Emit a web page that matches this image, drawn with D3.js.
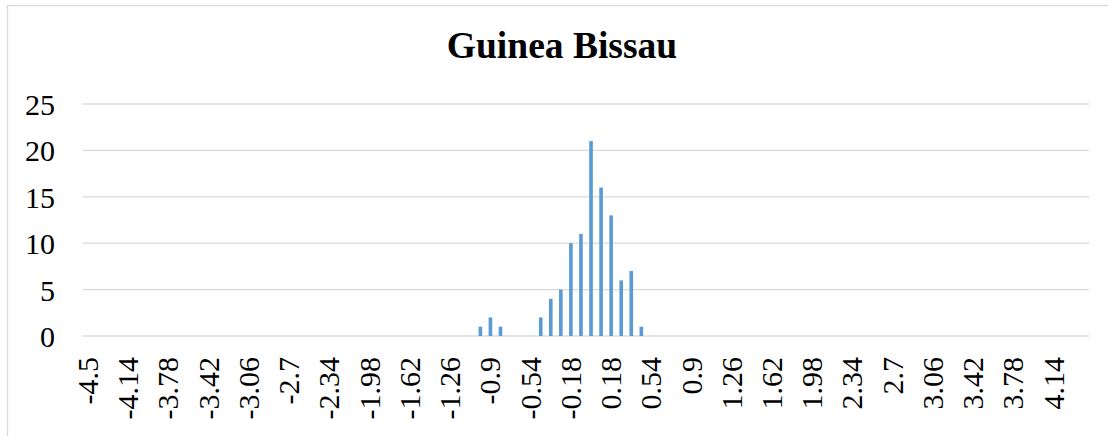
<!DOCTYPE html>
<html>
<head>
<meta charset="utf-8">
<script src="https://cdn.jsdelivr.net/npm/d3@7"></script>
<style>
  body { margin: 0; background: #fff; }
</style>
</head>
<body>
<div id="chart"></div>
<script>
const serif = '"Liberation Serif", "Times New Roman", serif';

// categorías del histograma: -4.5 a 4.41 en pasos de 0.09
const categories = d3.range(100).map(i => +(-4.5 + i * 0.09).toFixed(2));

// frecuencias (solo unas pocas son distintas de cero)
const counts = [
  0, 0, 0, 0, 0, 0, 0, 0, 0, 0,
  0, 0, 0, 0, 0, 0, 0, 0, 0, 0,
  0, 0, 0, 0, 0, 0, 0, 0, 0, 0,
  0, 0, 0, 0, 0, 0, 0, 0, 0, 1,
  2, 1, 0, 0, 0, 2, 4, 5, 10, 11,
  21, 16, 13, 6, 7, 1, 0, 0, 0, 0,
  0, 0, 0, 0, 0, 0, 0, 0, 0, 0,
  0, 0, 0, 0, 0, 0, 0, 0, 0, 0,
  0, 0, 0, 0, 0, 0, 0, 0, 0, 0,
  0, 0, 0, 0, 0, 0, 0, 0, 0, 0
];

const tickLabels = ['-4.5', '-4.14', '-3.78', '-3.42', '-3.06', '-2.7', '-2.34', '-1.98', '-1.62',
  '-1.26', '-0.9', '-0.54', '-0.18', '0.18', '0.54', '0.9', '1.26', '1.62', '1.98', '2.34',
  '2.7', '3.06', '3.42', '3.78', '4.14'];

const yTicks = [0, 5, 10, 15, 20, 25];

const width = 1108, height = 436;
const margin = { left: 83, right: 19, top: 104, bottom: 100 };
const plotW = width - margin.left - margin.right;
const plotH = height - margin.top - margin.bottom;

const svg = d3.select('#chart').append('svg')
  .attr('width', width)
  .attr('height', height)
  .attr('font-family', serif);

// marco del gráfico
svg.append('rect')
  .attr('x', 7.5).attr('y', 5.5)
  .attr('width', 1200).attr('height', 500)
  .attr('fill', 'none')
  .attr('stroke', '#d9d9d9')
  .attr('stroke-width', 1.3);

svg.append('text')
  .attr('x', 562).attr('y', 58)
  .attr('text-anchor', 'middle')
  .attr('font-family', serif)
  .attr('font-size', 37.5)
  .attr('font-weight', 'bold')
  .text('Guinea Bissau');

const data = categories.map((c, i) => ({ cat: c, n: counts[i] }));

const x = d3.scaleBand()
  .domain(categories)
  .range([0, plotW])
  .paddingInner(0.64)
  .paddingOuter(0.32);

const y = d3.scaleLinear()
  .domain([0, 25])
  .range([plotH, 0]);

const g = svg.append('g')
  .attr('transform', `translate(${margin.left},${margin.top})`);

// líneas de la cuadrícula
g.selectAll('.grid')
  .data(yTicks)
  .enter().append('line')
  .attr('x1', 0).attr('x2', plotW)
  .attr('y1', d => y(d)).attr('y2', d => y(d))
  .attr('stroke', '#d9d9d9')
  .attr('stroke-width', 1.3);

const yAxis = g.append('g')
  .call(d3.axisLeft(y).tickValues(yTicks).tickSize(0).tickPadding(28))
  .attr('font-family', serif)
  .attr('font-size', 30);
yAxis.select('.domain').remove();
yAxis.selectAll('text')
  .attr('fill', '#000')
  .attr('dy', '0.35em');

// barras
g.selectAll('.bar')
  .data(data)
  .enter().append('rect')
  .attr('class', 'bar')
  .attr('x', d => x(d.cat))
  .attr('y', d => y(d.n))
  .attr('width', x.bandwidth())
  .attr('height', d => plotH - y(d.n))
  .attr('fill', '#5b9bd5');

// etiquetas del eje X (una de cada cuatro categorías)
const xAxis = g.append('g')
  .attr('transform', `translate(0,${plotH})`)
  .call(d3.axisBottom(x)
    .tickValues(tickLabels.map(Number))
    .tickFormat(d => tickLabels.find(t => +t === d))
    .tickSize(0))
  .attr('font-family', serif)
  .attr('font-size', 30);
xAxis.select('.domain').remove();
xAxis.selectAll('text')
  .attr('fill', '#000')
  .attr('transform', 'rotate(-90)')
  .attr('text-anchor', 'end')
  .attr('x', -21)
  .attr('y', 0)
  .attr('dy', '0.33em');
</script>
</body>
</html>
